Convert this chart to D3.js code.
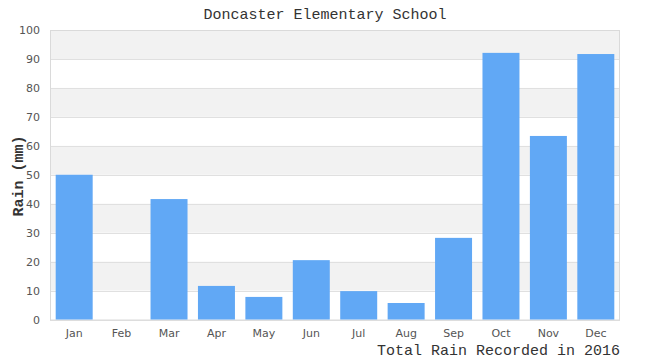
<!DOCTYPE html>
<html><head><meta charset="utf-8">
<script src="https://cdn.jsdelivr.net/npm/d3@7"></script>
<style>body{margin:0;background:#fff;}svg{display:block;}</style>
</head><body>
<svg id="c" width="650" height="360"></svg>
<script>
const months = ["Jan","Feb","Mar","Apr","May","Jun","Jul","Aug","Sep","Oct","Nov","Dec"];
const rain = [50, 0, 41.6, 11.6, 7.8, 20.5, 9.8, 5.7, 28.2, 92.1, 63.4, 91.7];
const yTicks = [0,10,20,30,40,50,60,70,80,90,100];
const title = "Doncaster Elementary School";
const yTitle = "Rain (mm)";
const xTitle = "Total Rain Recorded in 2016";

const svg = d3.select("#c");
const L = 50, R = 620, T = 30, B = 319.5;
const x = d3.scaleBand().domain(months).range([L, R]).paddingInner(0.22).paddingOuter(0.12);
const y = d3.scaleLinear().domain([0, 100]).range([B, T]);

// stripes
const bands = d3.range(0, 100, 10);
svg.append("g").selectAll("rect").data(bands.filter(v => (v/10) % 2 === 1)).join("rect")
  .attr("x", L).attr("width", R - L)
  .attr("y", d => y(d + 10)).attr("height", d => y(d) - y(d + 10))
  .attr("fill", "#f2f2f2");
// grid lines
svg.append("g").selectAll("line").data(yTicks).join("line")
  .attr("x1", L).attr("x2", R)
  .attr("y1", d => Math.round(y(d)) + 0.5).attr("y2", d => Math.round(y(d)) + 0.5)
  .attr("stroke", "#e0e0e0");
// border
svg.append("rect").attr("x", L + 0.5).attr("y", T + 0.5).attr("width", R - L - 1).attr("height", B - T)
  .attr("fill", "none").attr("stroke", "#dadada");

// bars
svg.append("g").selectAll("rect").data(rain).join("rect")
  .attr("x", (d, i) => x(months[i])).attr("width", x.bandwidth())
  .attr("y", d => y(d)).attr("height", d => y(0) - y(d))
  .attr("fill", "#61a8f5");

// axes
const yAxis = svg.append("g").attr("transform", `translate(${L},0)`)
  .call(d3.axisLeft(y).tickValues(yTicks).tickSize(0).tickPadding(10));
yAxis.select(".domain").remove();
yAxis.selectAll("text").attr("font-family", "DejaVu Sans, Verdana, sans-serif").attr("font-size", 11).attr("fill", "#555");

const xAxis = svg.append("g").attr("transform", `translate(0,${B})`)
  .call(d3.axisBottom(x).tickSize(0).tickPadding(10));
xAxis.select(".domain").remove();
xAxis.selectAll("text").attr("font-family", "DejaVu Sans, Verdana, sans-serif").attr("font-size", 11).attr("fill", "#555");

// titles
svg.append("text").attr("x", 325).attr("y", 19).attr("text-anchor", "middle")
  .attr("font-family", "Liberation Mono, DejaVu Sans Mono, monospace").attr("font-size", 15).attr("fill", "#333")
  .text(title);
svg.append("text").attr("transform", "translate(23,176) rotate(-90)").attr("text-anchor", "middle")
  .attr("font-family", "Liberation Mono, DejaVu Sans Mono, monospace").attr("font-size", 15).attr("font-weight", "bold").attr("fill", "#333")
  .text(yTitle);
svg.append("text").attr("x", 620).attr("y", 355).attr("text-anchor", "end")
  .attr("font-family", "Liberation Mono, DejaVu Sans Mono, monospace").attr("font-size", 15).attr("fill", "#333")
  .text(xTitle);
</script>
</body></html>
